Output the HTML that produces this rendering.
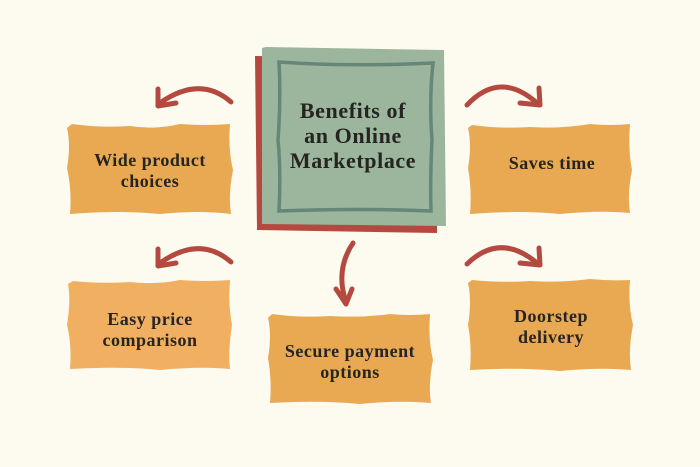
<!DOCTYPE html>
<html><head><meta charset="utf-8"><style>
html,body{margin:0;padding:0;background:#fdfaf0;}
svg{display:block}
text{font-family:"Liberation Serif",serif;font-weight:bold;fill:#262421;text-anchor:middle}
</style></head><body>
<svg width="700" height="467" viewBox="0 0 700 467">
<rect width="700" height="467" fill="#fdfaf0"/>
<!-- center -->
<path d="M255 56 L438 58 L437 233 L257 230 Z" fill="#b44a3f"/>
<path d="M266 47 L444 50 L446 226 L262 224 L262 48 Z" fill="#9bb69c"/>
<path d="M279 62 Q350 67 433 63 Q429 100 432 140 Q430 180 431 211 Q360 208 279 211 Q281 170 278 140 Q281 100 279 62 Z" fill="none" stroke="#66867a" stroke-width="3.5"/>
<text x="353" y="118" font-size="22" letter-spacing="0.6">Benefits of</text>
<text x="353" y="143" font-size="22" letter-spacing="0.6">an Online</text>
<text x="353" y="168" font-size="22" letter-spacing="0.6">Marketplace</text>
<!-- boxes -->
<g fill="#e8a952">
<path d="M72 124 Q100 128 130 126 Q155 130 180 124 Q205 126 230 124 Q228 150 233 170 Q228 195 231 214 Q200 210 160 214 Q120 210 70 214 Q72 190 67 168 Q71 145 67 128 Z"/>
<path d="M472 125 Q500 129 530 127 Q560 129 590 124 Q610 126 630 124 Q628 150 632 170 Q627 195 630 213 Q600 210 560 214 Q520 210 470 214 Q472 190 468 168 Q472 145 468 128 Z"/>
<path d="M472 280 Q500 283 530 281 Q560 283 590 279 Q610 281 630 280 Q628 305 633 325 Q628 350 631 370 Q600 367 560 371 Q520 367 470 370 Q472 345 468 325 Q472 300 468 283 Z"/>
<path d="M272 314 Q300 318 330 316 Q360 318 390 314 Q410 316 430 314 Q428 340 433 360 Q428 385 431 403 Q400 400 360 404 Q320 400 270 403 Q272 380 268 358 Q272 335 268 318 Z"/>
</g>
<path d="M73 281 Q100 284 130 282 Q155 285 180 280 Q205 282 230 280 Q228 305 232 325 Q228 350 230 369 Q200 366 160 370 Q120 366 70 369 Q72 345 67 325 Q71 300 68 284 Z" fill="#f1b061"/>
<g font-size="18" letter-spacing="0.5">
<text x="150" y="166">Wide product</text>
<text x="150" y="187">choices</text>
<text x="552" y="169">Saves time</text>
<text x="150" y="325">Easy price</text>
<text x="150" y="346">comparison</text>
<text x="551" y="322">Doorstep</text>
<text x="551" y="343">delivery</text>
<text x="350" y="357">Secure payment</text>
<text x="350" y="378">options</text>
</g>
<!-- arrows -->
<g fill="none" stroke="#b44a3f" stroke-width="5" stroke-linecap="round" stroke-linejoin="round">
<path d="M231 102 Q200 75 160 103"/><path d="M158 89 L158 106 L176 103"/>
<path d="M231 262 Q200 235 160 263"/><path d="M158 249 L158 266 L176 263"/>
<path d="M467 105 Q500 70 537 103"/><path d="M539 88 L540 105 L520 103"/>
<path d="M467 264 Q500 232 537 263"/><path d="M539 248 L540 265 L520 263"/>
<path d="M353 243 Q335 270 346 302"/><path d="M336 289 L346 304 L352 289"/>
</g>
</svg>
</body></html>
